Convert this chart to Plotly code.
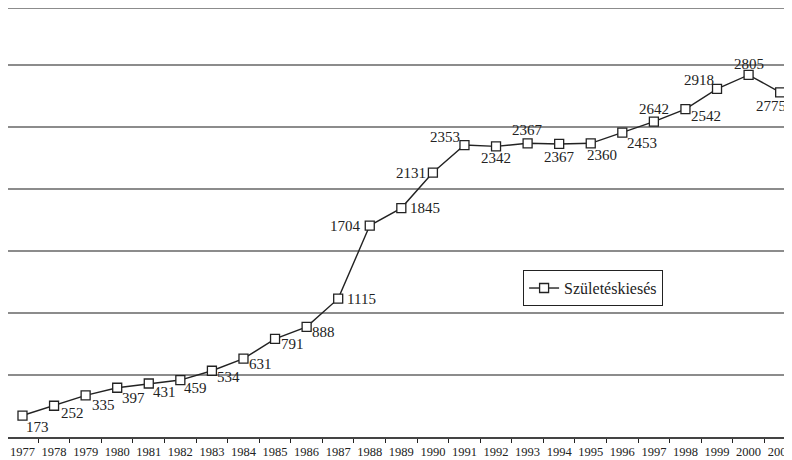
import plotly.graph_objects as go

years = [str(y) for y in range(1977, 2002)]
values = [173, 252, 335, 397, 431, 459, 534, 631, 791, 888, 1115, 1704, 1845,
          2131, 2353, 2342, 2367, 2362, 2367, 2453, 2542, 2642, 2805, 2918, 2778]
labels = ["173", "252", "335", "397", "431", "459", "534", "631", "791", "888",
          "1115", "1704", "1845", "2131", "2353", "2342", "2367", "2367", "2360",
          "2453", "2642", "2542", "2918", "2805", "2775"]
series_name = "Születéskiesés"

# label placement style: (anchor, dx px, dy px downward)
label_style = [
    ("left", 3.3, 11.3), ("left", 6.7, 7.2), ("left", 6.7, 9.3), ("left", 5, 10),
    ("left", 4.4, 8), ("left", 3.3, 7.5), ("left", 5, 6.5), ("left", 6, 5),
    ("left", 5.7, 5), ("left", 5.7, 4.7), ("left", 8.4, 0), ("right", -8.5, 0),
    ("left", 8.3, 0), ("right", -7, 0), ("right", -4.3, -8.5), ("center", 0, 11.8),
    ("center", 0, -13.3), ("center", 0, 13.5), ("left", -4, 11.7), ("left", 4.3, 10.5),
    ("center", 0, -12.7), ("left", 5.4, 7), ("right", -2.7, -9.2), ("center", 0, -11.2),
    ("center", -9, 13.5),
]

FONT = "Liberation Serif"
INK = "#222"

fig = go.Figure()
fig.add_trace(go.Scatter(
    x=years, y=values, mode="lines+markers", name=series_name,
    line=dict(color=INK, width=1.4),
    marker=dict(symbol="square", size=9, color="white",
                line=dict(color=INK, width=1.3)),
    cliponaxis=False,
))

# on a category axis, annotation x is the category's serial index
for idx, (v, txt, (anc, dx, dy)) in enumerate(zip(values, labels, label_style)):
    fig.add_annotation(x=idx, y=v, text=txt, showarrow=False,
                       xanchor=anc, yanchor="middle", xshift=dx, yshift=-dy,
                       borderpad=0, borderwidth=0,
                       font=dict(family=FONT, size=15, color=INK))

fig.add_shape(type="line", xref="paper", yref="paper", x0=0, x1=1, y0=1, y1=1,
              line=dict(color="#8c8c8c", width=2))

fig.update_layout(
    width=784, height=452,
    margin=dict(l=0, r=0, t=0, b=23, autoexpand=False),
    paper_bgcolor="white", plot_bgcolor="white",
    font=dict(family=FONT, size=12, color=INK),
    showlegend=True,
    legend=dict(x=0.657, y=0.389, xanchor="left", yanchor="top",
                bordercolor=INK, borderwidth=1, bgcolor="white",
                font=dict(family=FONT, size=16, color=INK)),
    xaxis=dict(type="category", range=[-0.459, 24.375], tickson="boundaries",
               ticks="outside", ticklen=4, tickcolor=INK, tickwidth=1,
               tickangle=0, automargin=False, ticklabelstandoff=2,
               showline=True, linecolor="#444", linewidth=1.5,
               showgrid=False, tickfont=dict(family=FONT, size=12.5, color=INK)),
    yaxis=dict(range=[0, 3457.5], dtick=500, showgrid=True, gridcolor="#8c8c8c",
               gridwidth=2, showticklabels=False, ticks="", zeroline=False,
               automargin=False,
               showline=True, linecolor="#b4b4b4", linewidth=1),
)

fig.write_html("out.html")
